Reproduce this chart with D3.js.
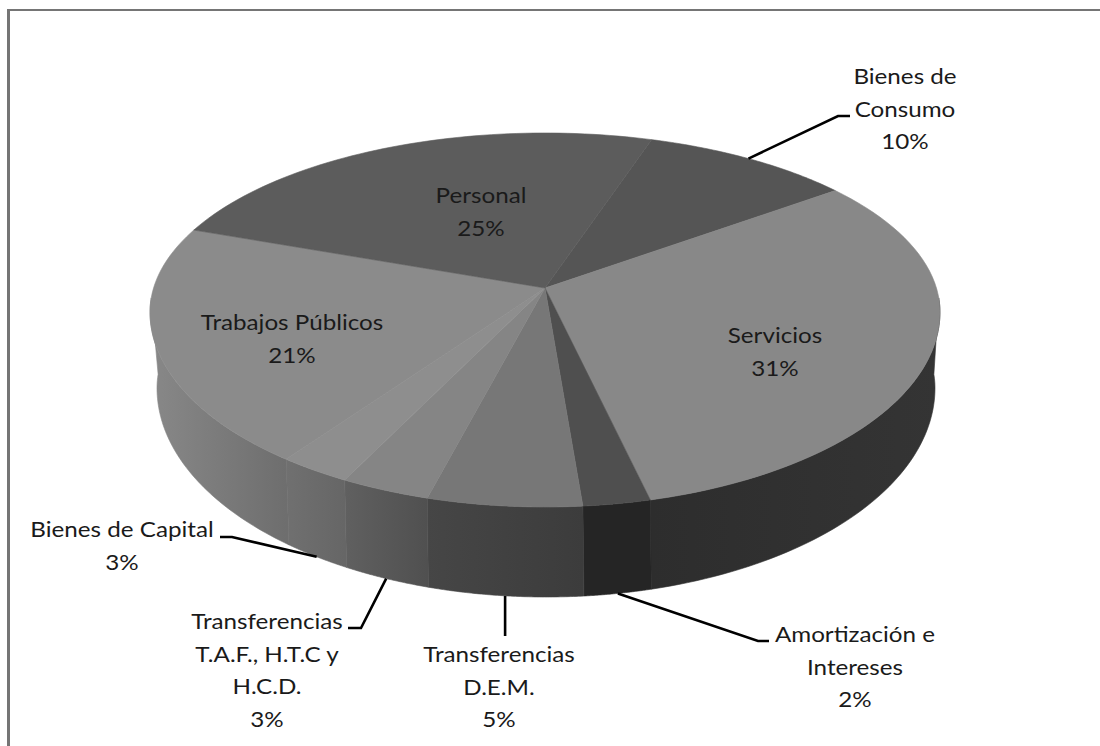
<!DOCTYPE html>
<html><head><meta charset="utf-8">
<script src="https://cdn.jsdelivr.net/npm/d3@7/dist/d3.min.js"></script>
<style>html,body{margin:0;padding:0;background:#fff;overflow:hidden}svg{display:block}</style>
</head><body>
<div id="chart"></div>
<script>
// ---- data ----
const categories = ["Bienes de Consumo","Servicios","Amortización e Intereses","Transferencias D.E.M.","Transferencias T.A.F., H.T.C y H.C.D.","Bienes de Capital","Trabajos Públicos","Personal"];
const values = [10, 31, 2.4, 5.5, 3.2, 2.6, 20.3, 25];
const percentLabels = ["10%","31%","2%","5%","3%","3%","21%","25%"];
const labelLines = [["Bienes de","Consumo"],["Servicios"],["Amortización e","Intereses"],["Transferencias","D.E.M."],["Transferencias","T.A.F., H.T.C y","H.C.D."],["Bienes de Capital"],["Trabajos Públicos"],["Personal"]];

// ---- styles and layout ----
const topGrays = ["#555555","#888888","#4f4f4f","#777777","#858585","#8e8e8e","#8b8b8b","#5c5c5c"];
const wallGrays = [["#222","#222"],["#343434","#2d2d2d"],["#252525","#252525"],["#3c3c3c","#464646"],["#505050","#606060"],["#666666","#707070"],["#6e6e6e","#888888"],["#444","#444"]];
const labelPos = [[905,84],[775,343],[855,642],[499,662],[267,629],[122,537],[292,330],[481,203]];
const leaders = [
  {i:0,edge:"top",pts:[[838,116],[850,116]]},
  {i:2,edge:"bottom",pts:[[758,641],[769,641]]},
  {i:3,edge:"bottom",pts:[[null,636]]},
  {i:4,edge:"bottom",pts:[[361,628],[348,628]]},
  {i:5,edge:"bottom",pts:[[232,537],[220,537]]}
];
const W=1100,H=746,lineH=32.6,textStretch=1.1;
const FONT='Lato, "Open Sans", sans-serif';

const svg=d3.select("#chart").append("svg").attr("width",W).attr("height",H);
const defs=svg.append("defs");
const frame=svg.append("g").attr("stroke","#757575").attr("fill","none");
frame.append("line").attr("x1",7).attr("x2",W).attr("y1",10).attr("y2",10).attr("stroke-width",2);
frame.append("line").attr("x1",8.5).attr("x2",8.5).attr("y1",9).attr("y2",H).attr("stroke-width",3);

// ray directions come from a perspective view of the unit disc; each ray is
// cut by the rim shape (a slightly egg-shaped ellipse, as the 3-D pie is drawn)
const k=1/6;
const rayA=389.5, rayB=186.7;
const topDisc={x0:545,y0:288,yc:312,A:395,Rup:179,Rdown:195,ray:1};
const botDisc={x0:546,y0:364,yc:388,A:389,Rup:180,Rdown:209,ray:0.94};
function project(d,ang){
  const u=Math.sin(ang),v=-Math.cos(ang),w=1/(1-k*v);
  const dx=rayA*d.ray*u*w,dy=rayB*v*w,off=d.y0-d.yc;
  const solve=R=>{
    const a=(dx*dx)/(d.A*d.A)+(dy*dy)/(R*R);
    const b=2*off*dy/(R*R);
    const c=off*off/(R*R)-1;
    return (-b+Math.sqrt(b*b-4*a*c))/(2*a);
  };
  let t=solve(d.Rdown);
  if(d.y0+t*dy<d.yc) t=solve(d.Rup);
  return [d.x0+t*dx,d.y0+t*dy];
}

const rad=d=>d*Math.PI/180;
const pie=d3.pie().sort(null).startAngle(rad(19)).endAngle(rad(379));
const arcs=pie(values);
const arcPts=(d,a0,a1)=>d3.range(0,61).map(i=>project(d,a0+(a1-a0)*i/60));
const line=d3.line();

// walls: only the part of each slice that faces the viewer
const wallFrom=rad(93), wallTo=rad(267);
const walls=svg.append("g");
arcs.forEach((s,i)=>{
  const f=Math.max(s.startAngle,wallFrom),t=Math.min(s.endAngle,wallTo);
  if(f>=t) return;
  const p0=project(topDisc,f),p1=project(topDisc,t);
  const id="wall"+i;
  const g=defs.append("linearGradient").attr("id",id).attr("gradientUnits","userSpaceOnUse")
    .attr("x1",p0[0]).attr("x2",p1[0]).attr("y1",0).attr("y2",0);
  g.append("stop").attr("offset",0).attr("stop-color",wallGrays[i][0]);
  g.append("stop").attr("offset",1).attr("stop-color",wallGrays[i][1]);
  const pts=arcPts(topDisc,f,t).concat(arcPts(botDisc,f,t).reverse());
  walls.append("path").attr("d",line(pts)+"Z").attr("fill",`url(#${id})`)
    .attr("stroke",`url(#${id})`).attr("stroke-width",0.6);
});

// top faces
const tops=svg.append("g");
arcs.forEach((s,i)=>{
  const pts=[[topDisc.x0,topDisc.y0]].concat(arcPts(topDisc,s.startAngle,s.endAngle));
  tops.append("path").attr("d",line(pts)+"Z").attr("fill",topGrays[i])
    .attr("stroke",topGrays[i]).attr("stroke-width",0.6);
});

// leader lines
const leadG=svg.append("g");
leaders.forEach(l=>{
  const s=arcs[l.i];
  const start=project(l.edge==="top"?topDisc:botDisc,(s.startAngle+s.endAngle)/2);
  const pts=[start].concat(l.pts.map(p=>[p[0]===null?start[0]:p[0],p[1]]));
  leadG.append("path").attr("d",line(pts)).attr("fill","none").attr("stroke","#000").attr("stroke-width",2.6);
});

// labels
const txt=svg.append("g").attr("font-family",FONT).attr("font-size",22).attr("fill","#1a1a1a").attr("text-anchor","middle");
categories.forEach((c,i)=>{
  const t=txt.append("text").attr("data-category",c)
    .attr("transform",`translate(${labelPos[i][0]},${labelPos[i][1]}) scale(${textStretch},1)`);
  labelLines[i].concat([percentLabels[i]]).forEach((ln,j)=>{
    t.append("tspan").attr("x",0).attr("y",j*lineH).text(ln);
  });
});
</script>
</body></html>
